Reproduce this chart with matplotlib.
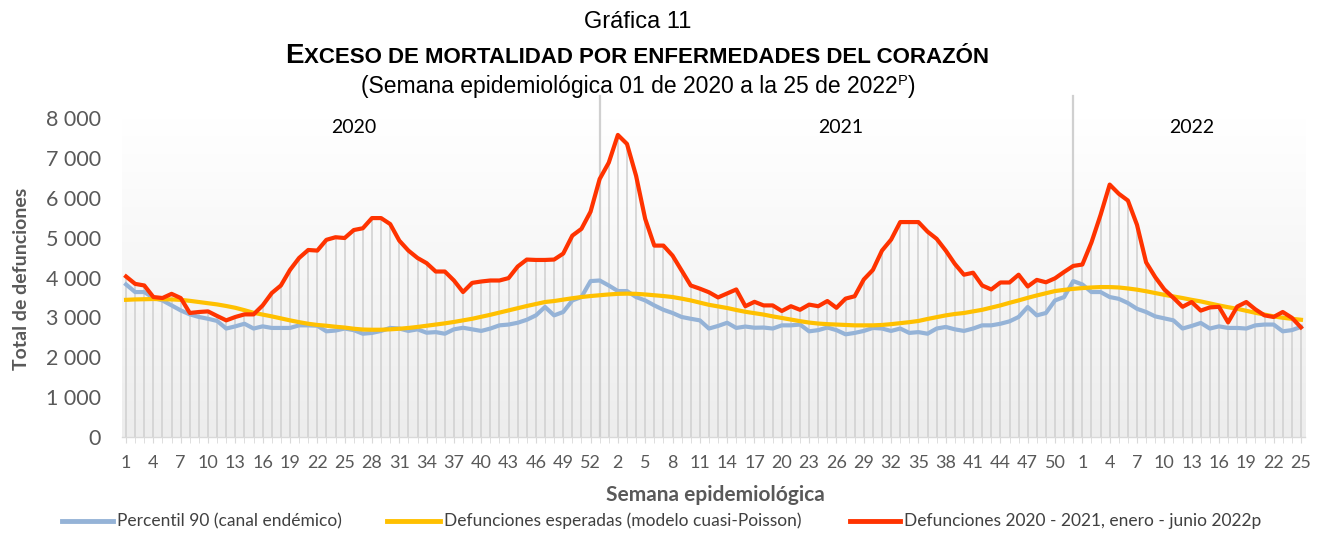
import numpy as np
import matplotlib
matplotlib.use("Agg")
import matplotlib.pyplot as plt
from matplotlib.lines import Line2D
from matplotlib.colors import LinearSegmentedColormap

# ---------------- data ----------------
weeks_2020 = list(range(1, 54))
weeks_2021 = list(range(1, 53))
weeks_2022 = list(range(1, 26))
week_labels = weeks_2020 + weeks_2021 + weeks_2022

year_labels = ["2020", "2021", "2022"]

defunciones = [
    4025, 3840, 3800, 3510, 3485, 3590, 3485, 3110, 3135, 3150, 3035,
    2925, 3010, 3075, 3075, 3300, 3610, 3800, 4190, 4490, 4690, 4675,
    4945, 5010, 4990, 5190, 5235, 5490, 5490, 5340, 4925, 4675, 4490,
    4360, 4150, 4150, 3925, 3635, 3865, 3900, 3925, 3925, 3985, 4275,
    4450, 4440, 4440, 4450, 4600, 5050, 5220, 5650, 6470, 6880, 7575,
    7350, 6550, 5470, 4800, 4800, 4550, 4175, 3800, 3720, 3630, 3500,
    3600, 3700, 3280, 3390, 3300, 3300, 3160, 3280, 3190, 3320, 3280,
    3410, 3240, 3470, 3530, 3950, 4190, 4675, 4950, 5390, 5390, 5390,
    5150, 4970, 4675, 4340, 4070, 4120, 3800, 3700, 3875, 3875, 4070,
    3775, 3940, 3880, 3980, 4140, 4290, 4325, 4880, 5570, 6330, 6100,
    5930, 5320, 4380, 4010, 3700, 3490, 3265, 3385, 3170, 3250, 3265,
    2875, 3270, 3385, 3200, 3050, 3010, 3135, 2990, 2750,
]

percentil90 = [
    3825, 3635, 3635, 3490, 3425, 3300, 3175, 3075, 3010, 2965, 2910,
    2720, 2775, 2840, 2720, 2775, 2735, 2735, 2735, 2800, 2800, 2790,
    2650, 2670, 2720, 2680, 2590, 2610, 2660, 2735, 2720, 2660, 2700,
    2615, 2630, 2590, 2700, 2740, 2700, 2660, 2720, 2800, 2820, 2865,
    2940, 3050, 3260, 3050, 3135, 3425, 3510, 3910, 3925, 3800, 3660,
    3660, 3510, 3425, 3300, 3190, 3110, 3010, 2965, 2925, 2720, 2785,
    2865, 2735, 2770, 2740, 2745, 2720, 2800, 2800, 2820, 2650, 2680,
    2745, 2680, 2575, 2610, 2660, 2735, 2720, 2660, 2720, 2610, 2630,
    2590, 2720, 2760, 2700, 2660, 2720, 2800, 2800, 2840, 2900, 3010,
    3260, 3050, 3110, 3425, 3510, 3910, 3825, 3635, 3635, 3510, 3465,
    3360, 3215, 3135, 3025, 2975, 2925, 2720, 2785, 2860, 2720, 2775,
    2735, 2735, 2720, 2800, 2820, 2820, 2650, 2680, 2760,
]

esperadas = [
    3440, 3450, 3455, 3460, 3455, 3450, 3440, 3415, 3385, 3355, 3325,
    3285, 3240, 3180, 3115, 3070, 3025, 2975, 2925, 2880, 2840, 2810,
    2790, 2765, 2745, 2715, 2695, 2690, 2690, 2700, 2715, 2735, 2760,
    2790, 2820, 2850, 2885, 2925, 2965, 3015, 3065, 3120, 3175, 3230,
    3285, 3335, 3385, 3410, 3445, 3480, 3510, 3535, 3555, 3575, 3590,
    3595, 3590, 3575, 3555, 3535, 3510, 3470, 3425, 3370, 3315, 3275,
    3235, 3185, 3140, 3105, 3070, 3025, 2985, 2945, 2905, 2870, 2845,
    2830, 2820, 2810, 2800, 2800, 2800, 2810, 2830, 2855, 2880, 2910,
    2960, 3005, 3050, 3085, 3110, 3150, 3190, 3245, 3300, 3365, 3425,
    3490, 3550, 3605, 3660, 3690, 3715, 3735, 3750, 3760, 3760, 3750,
    3725, 3695, 3655, 3610, 3565, 3525, 3485, 3440, 3400, 3350, 3300,
    3255, 3215, 3165, 3115, 3070, 3025, 2990, 2965, 2940,
]

series_labels = [
    "Percentil 90 (canal endémico)",
    "Defunciones esperadas (modelo cuasi-Poisson)",
    "Defunciones 2020 - 2021, enero - junio 2022p",
]
y_ticks = [0, 1000, 2000, 3000, 4000, 5000, 6000, 7000, 8000]

# ---------------- style ----------------
C_RED = "#FF3300"
C_YEL = "#FFC000"
C_BLUE = "#95B3D7"
C_GRAY_TXT = "#595959"
TICK_FONT = ["Lato", "DejaVu Sans"]
TITLE_FONT = ["Liberation Sans", "DejaVu Sans"]

W, H = 1324, 533
fig = plt.figure(figsize=(W / 100, H / 100), dpi=100)
fig.patch.set_facecolor("white")

def fx(px):
    return px / W

def fy(py_from_top):
    return 1 - py_from_top / H

ax = fig.add_axes([fx(121.5), 96 / H, 1184 / W, 319 / H])
n = len(defunciones)
x = np.arange(n)
ax.set_xlim(-0.5, n - 0.5)
ax.set_ylim(0, 8000)

# gradient background
grad = np.linspace(0.0, 1.0, 256).reshape(-1, 1)
cmap = LinearSegmentedColormap.from_list("bg", ["#ededed", "#ffffff"])
ax.imshow(grad, extent=[-0.5, n - 0.5, 0, 8000], aspect="auto",
          cmap=cmap, origin="lower", zorder=0)

# drop lines
ax.vlines(x, 0, defunciones, color="#cfcfcf", lw=1.1, zorder=1)

# year separators
year_ends = [len(weeks_2020) - 1, len(weeks_2020) + len(weeks_2021) - 1]
for xe in year_ends:
    ax.plot([xe, xe], [0, 8550], color="#d0d0d0", lw=1.6, zorder=1, clip_on=False)

ax.plot(x, percentil90, color=C_BLUE, lw=3.0, zorder=3, solid_joinstyle="round")
ax.plot(x, esperadas, color=C_YEL, lw=3.0, zorder=4, solid_joinstyle="round")
ax.plot(x, defunciones, color=C_RED, lw=3.0, zorder=5, solid_joinstyle="round")

# year labels
year_pos = [25.0, 78.5, 117.0]
for lab, xp in zip(year_labels, year_pos):
    ax.text(xp, 7750, lab, ha="center", va="center", fontsize=14,
            family=TICK_FONT, color="black")

# axes styling
for s in ["top", "right", "left"]:
    ax.spines[s].set_visible(False)
ax.spines["bottom"].set_color("#d9d9d9")
ax.spines["bottom"].set_linewidth(1.0)
ax.set_yticks(y_ticks)
ax.set_yticklabels([f"{v:,}".replace(",", " ") for v in y_ticks],
                   family=TICK_FONT, fontsize=15.5, color=C_GRAY_TXT)
ax.tick_params(axis="y", length=0, pad=15)
ax.set_xticks(x[::3])
ax.set_xticklabels([str(week_labels[i]) for i in x[::3]],
                   family=TICK_FONT, fontsize=13, color=C_GRAY_TXT)
ax.set_xticks(x, minor=True)
ax.tick_params(axis="x", which="major", length=4, color="#d9d9d9", pad=9)
ax.tick_params(axis="x", which="minor", length=4, color="#d9d9d9")

fig.text(fx(715), fy(495), "Semana epidemiológica", ha="center", va="center",
         fontsize=15, fontweight="bold", family=TICK_FONT, color=C_GRAY_TXT)
fig.text(fx(22), fy(279), "Total de defunciones", ha="center", va="center",
         rotation=90, fontsize=14, fontweight="bold", family=TICK_FONT,
         color=C_GRAY_TXT)

# legend (manual)
leg = [(62, 113, 117, C_BLUE), (387, 440, 444, C_YEL), (850, 900, 904, C_RED)]
for (x0, x1, xt, c), lab in zip(leg, series_labels):
    fig.add_artist(Line2D([fx(x0), fx(x1)], [fy(521), fy(521)], color=c, lw=3.5,
                          transform=fig.transFigure))
    fig.text(fx(xt), fy(521), lab, ha="left", va="center", fontsize=12.5,
             family=TICK_FONT, color="#404040")

# titles
renderer = fig.canvas.get_renderer()

def place_runs(xc, ybase, parts):
    texts = []
    widths = []
    for s, kw, dy in parts:
        t = fig.text(0, 0, s, ha="left", va="baseline", **kw)
        texts.append((t, dy))
        widths.append(t.get_window_extent(renderer).width)
    total = sum(widths)
    xcur = xc - total / 2
    for (t, dy), w in zip(texts, widths):
        t.set_position((fx(xcur), fy(ybase - dy)))
        xcur += w

fig.text(fx(638), fy(28), "Gráfica 11", ha="center", va="baseline",
         fontsize=17, family=TITLE_FONT, color="black")
place_runs(637, 63, [
    ("E", dict(fontsize=20, fontweight="bold", family=TITLE_FONT), 0),
    ("XCESO DE MORTALIDAD POR ENFERMEDADES DEL CORAZÓN",
     dict(fontsize=16, fontweight="bold", family=TITLE_FONT), 0),
])
place_runs(638, 93, [
    ("(Semana epidemiológica 01 de 2020 a la 25 de 2022",
     dict(fontsize=16.5, family=TITLE_FONT), 0),
    ("P", dict(fontsize=10.5, family=TITLE_FONT), 8),
    (")", dict(fontsize=16.5, family=TITLE_FONT), 0),
])

fig.savefig("out.png", dpi=100)
